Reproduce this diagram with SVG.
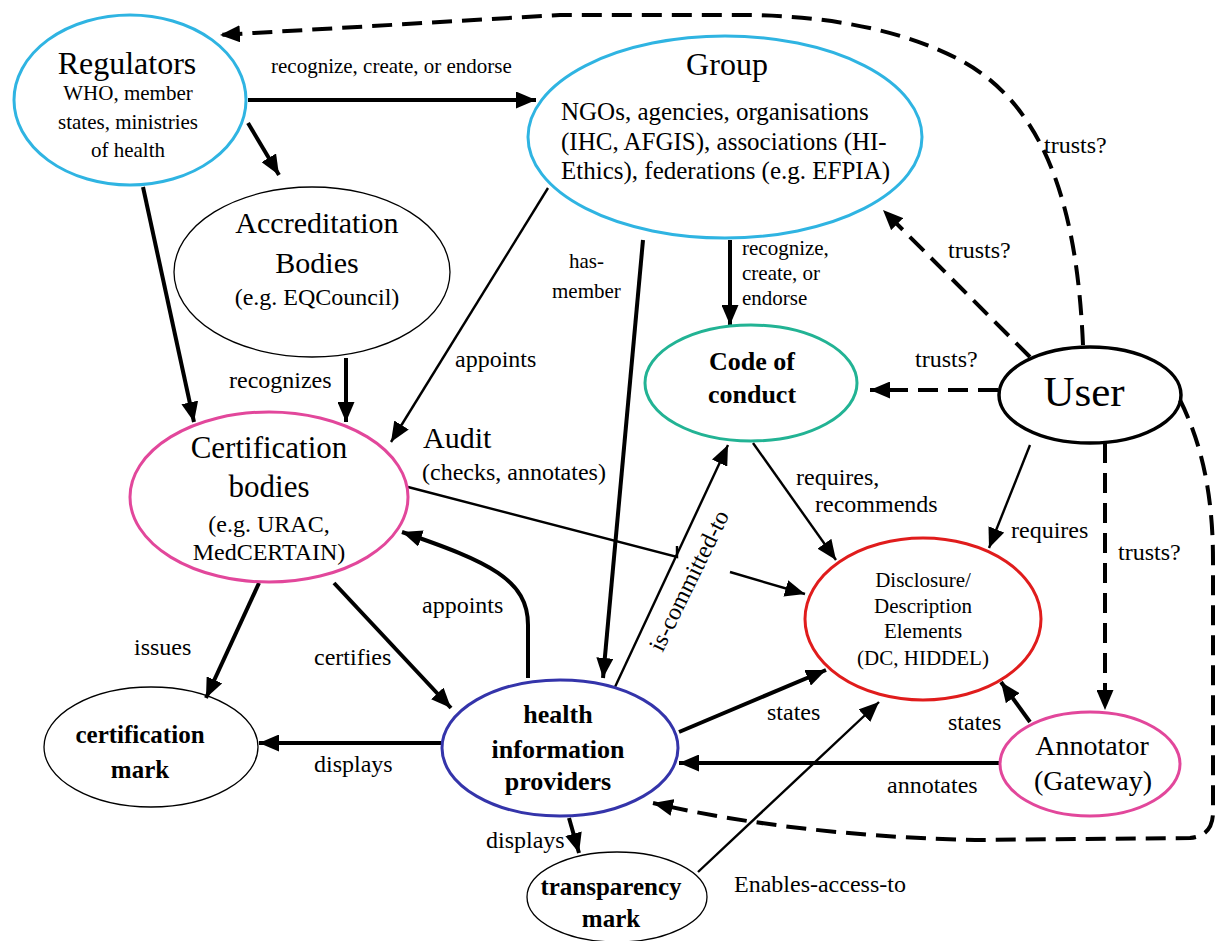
<svg xmlns="http://www.w3.org/2000/svg" width="1216" height="941" viewBox="0 0 1216 941">
<style>
text{font-family:Liberation Serif,Times New Roman,Times,serif;fill:#000}
.lbl{font-size:24px}
.sm{font-size:21px}
.node ellipse{fill:none}
.big{font-size:31px}
.b{font-weight:bold}
.c{text-anchor:middle}
.thick{stroke:#000;stroke-width:4;fill:none}
.thin{stroke:#000;stroke-width:2.4;fill:none}
.dash{stroke:#000;stroke-width:4;fill:none;stroke-dasharray:20 10}
</style>
<defs>
<marker id="ah" viewBox="0 0 20 17" refX="20" refY="8.5" markerWidth="20" markerHeight="17" markerUnits="userSpaceOnUse" orient="auto">
<path d="M0,0 L20,8.5 L0,17 z" fill="#000"/>
</marker>
</defs>
<rect width="1216" height="941" fill="#fff"/>

<g id="connectors">
<line class="thick" x1="248" y1="100" x2="536" y2="100" marker-end="url(#ah)"/>
<line class="thick" x1="248" y1="123" x2="279" y2="175" marker-end="url(#ah)"/>
<line class="thick" x1="143" y1="187" x2="194" y2="422" marker-end="url(#ah)"/>
<line class="thick" x1="346" y1="358" x2="346" y2="422" marker-end="url(#ah)"/>
<line class="thin" x1="548" y1="188" x2="391" y2="442" marker-end="url(#ah)"/>
<line class="thick" x1="643" y1="240" x2="603" y2="678" marker-end="url(#ah)"/>
<line class="thick" x1="730" y1="240" x2="730" y2="325" marker-end="url(#ah)"/>
<line class="thin" x1="615" y1="687" x2="728" y2="445" marker-end="url(#ah)"/>
<path class="thin" d="M408,487 L677,557 L677,546"/>
<line class="thin" x1="730" y1="572" x2="805" y2="594" marker-end="url(#ah)"/>
<line class="thin" x1="753" y1="443" x2="836" y2="560" marker-end="url(#ah)"/>
<line class="thin" x1="1030" y1="445" x2="989" y2="548" marker-end="url(#ah)"/>
<path class="thick" d="M528,678 L528,625 C528,580 490,562 402,532" marker-end="url(#ah)"/>
<line class="thick" x1="334" y1="583" x2="451" y2="708" marker-end="url(#ah)"/>
<line class="thick" x1="259" y1="583" x2="206" y2="698" marker-end="url(#ah)"/>
<line class="thick" x1="441" y1="743" x2="259" y2="743" marker-end="url(#ah)"/>
<line class="thick" x1="569" y1="818" x2="579" y2="853" marker-end="url(#ah)"/>
<line class="thin" x1="698" y1="872" x2="879" y2="702" marker-end="url(#ah)"/>
<line class="thick" x1="679" y1="732" x2="826" y2="670" marker-end="url(#ah)"/>
<line class="thick" x1="1030" y1="722" x2="1001" y2="682" marker-end="url(#ah)"/>
<line class="thick" x1="999" y1="763" x2="679" y2="763" marker-end="url(#ah)"/>
<line class="dash" x1="998" y1="390" x2="870" y2="390" marker-end="url(#ah)"/>
<line class="dash" x1="1030" y1="357" x2="883" y2="210" marker-end="url(#ah)"/>
<line class="dash" x1="1105" y1="443" x2="1105" y2="710" marker-end="url(#ah)"/>
<path class="dash" d="M1083,345 C1078,230 1055,110 960,60 C900,28 820,15 740,15 L560,15 L220,35" marker-end="url(#ah)"/>
<path class="dash" d="M1180,400 C1200,440 1213,490 1213,560 L1213,812 Q1213,836 1190,838 L975,840 C880,838 760,828 653,803" marker-end="url(#ah)"/>

<text class="sm" x="271" y="73">recognize, create, or endorse</text>
<text class="lbl" x="229" y="388">recognizes</text>
<text class="lbl" x="455" y="367">appoints</text>
<text class="sm" x="569" y="268">has-</text>
<text class="sm" x="552" y="298">member</text>
<text class="sm" x="742" y="255">recognize,</text>
<text class="sm" x="742" y="280">create, or</text>
<text class="sm" x="742" y="305">endorse</text>
<text class="lbl" x="1044" y="153">trusts?</text>
<text class="lbl" x="948" y="258">trusts?</text>
<text class="lbl" x="915" y="367">trusts?</text>
<text class="lbl" x="1118" y="560">trusts?</text>
<text style="font-size:30px" x="423" y="448">Audit</text>
<text class="lbl" x="422" y="480">(checks, annotates)</text>
<text class="lbl" x="796" y="485">requires,</text>
<text class="lbl" x="815" y="512">recommends</text>
<text class="lbl" x="1011" y="538">requires</text>
<text class="lbl" x="134" y="655">issues</text>
<text class="lbl" x="314" y="665">certifies</text>
<text class="lbl" x="422" y="613">appoints</text>
<text class="lbl" x="314" y="772">displays</text>
<text class="lbl" x="486" y="848">displays</text>
<text class="lbl" x="767" y="720">states</text>
<text class="lbl" x="948" y="730">states</text>
<text class="lbl" x="887" y="793">annotates</text>
<text class="lbl" x="734" y="892">Enables-access-to</text>
<text class="lbl c" transform="translate(696,584) rotate(-64)" x="0" y="0">is-committed-to</text>
</g>

<g id="regulators" class="node">
<ellipse cx="130" cy="100" rx="116" ry="85" stroke="#2fb4e2" stroke-width="3"/>
<text class="c" style="font-size:32px" x="127" y="74">Regulators</text>
<text class="c" style="font-size:21px" x="128" y="100">WHO, member</text>
<text class="c" style="font-size:21px" x="128" y="129">states, ministries</text>
<text class="c" style="font-size:21px" x="128" y="157">of health</text>
</g>

<g id="group" class="node">
<ellipse cx="725" cy="137" rx="197" ry="101" stroke="#2fb4e2" stroke-width="3"/>
<text class="c" style="font-size:32px" x="727" y="75">Group</text>
<text style="font-size:25px" x="561" y="120">NGOs, agencies, organisations</text>
<text style="font-size:25px" x="561" y="150">(IHC, AFGIS), associations (HI-</text>
<text style="font-size:25px" x="561" y="179">Ethics), federations (e.g. EFPIA)</text>
</g>

<g id="accreditation" class="node">
<ellipse cx="312" cy="272" rx="138" ry="85" stroke="#000" stroke-width="1.3"/>
<text class="c" style="font-size:30px" x="317" y="233">Accreditation</text>
<text class="c" style="font-size:30px" x="317" y="273">Bodies</text>
<text class="c" style="font-size:24px" x="317" y="305">(e.g. EQCouncil)</text>
</g>

<g id="certification-bodies" class="node">
<ellipse cx="269" cy="497" rx="139" ry="85" stroke="#e2479b" stroke-width="3"/>
<text class="c big" x="269" y="458">Certification</text>
<text class="c big" x="269" y="497">bodies</text>
<text class="c" style="font-size:24px" x="269" y="532">(e.g. URAC,</text>
<text class="c" style="font-size:24px" x="269" y="560">MedCERTAIN)</text>
</g>

<g id="code-of-conduct" class="node">
<ellipse cx="751" cy="383" rx="106" ry="58" stroke="#22b394" stroke-width="3"/>
<text class="c b" style="font-size:26px" x="752" y="370">Code of</text>
<text class="c b" style="font-size:26px" x="752" y="403">conduct</text>
</g>

<g id="user" class="node">
<ellipse cx="1090" cy="395" rx="91" ry="48" stroke="#000" stroke-width="3.5"/>
<text class="c" style="font-size:43px" x="1084" y="406">User</text>
</g>

<g id="disclosure" class="node">
<ellipse cx="923" cy="619" rx="118" ry="81" stroke="#e01c1c" stroke-width="3"/>
<text class="c" style="font-size:21px" x="923" y="587">Disclosure/</text>
<text class="c" style="font-size:21px" x="923" y="613">Description</text>
<text class="c" style="font-size:21px" x="923" y="638">Elements</text>
<text class="c" style="font-size:21px" x="923" y="665">(DC, HIDDEL)</text>
</g>

<g id="certification-mark" class="node">
<ellipse cx="151" cy="747" rx="107" ry="60" stroke="#000" stroke-width="1.3"/>
<text class="c b" style="font-size:25px" x="140" y="743">certification</text>
<text class="c b" style="font-size:25px" x="140" y="778">mark</text>
</g>

<g id="health-information-providers" class="node">
<ellipse cx="560" cy="748" rx="118" ry="68" stroke="#3434aa" stroke-width="3"/>
<text class="c b" style="font-size:26px" x="558" y="723">health</text>
<text class="c b" style="font-size:26px" x="558" y="758">information</text>
<text class="c b" style="font-size:26px" x="558" y="790">providers</text>
</g>

<g id="transparency-mark" class="node">
<ellipse cx="617" cy="897" rx="90" ry="45" stroke="#000" stroke-width="1.3"/>
<text class="c b" style="font-size:25px" x="611" y="895">transparency</text>
<text class="c b" style="font-size:25px" x="611" y="927">mark</text>
</g>

<g id="annotator" class="node">
<ellipse cx="1090" cy="764" rx="90" ry="52" stroke="#e2479b" stroke-width="3"/>
<text class="c" style="font-size:28px" x="1092" y="755">Annotator</text>
<text class="c" style="font-size:28px" x="1093" y="790">(Gateway)</text>
</g>
</svg>
